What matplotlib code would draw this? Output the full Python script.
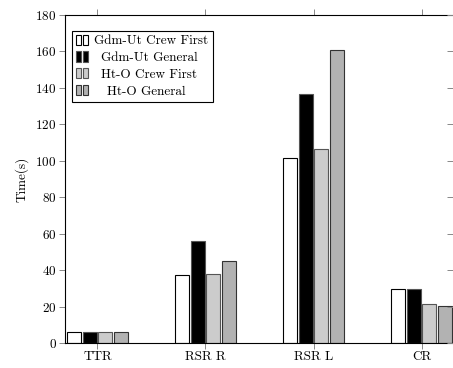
import numpy as np
import matplotlib
matplotlib.use("Agg")
import matplotlib.pyplot as plt
from matplotlib.patches import Rectangle
from matplotlib.legend_handler import HandlerBase

plt.rcParams["font.family"] = ["cmr10", "DejaVu Serif"]
plt.rcParams["axes.formatter.use_mathtext"] = True
plt.rcParams["font.size"] = 9.5

categories = ["TTR", "RSR R", "RSR L", "CR"]
series_names = ["Gdm-Ut Crew First", "Gdm-Ut General", "Ht-O Crew First", "Ht-O General"]
gdm_crew_first = [5.9, 37.2, 101.5, 29.8]
gdm_general = [5.9, 56.0, 136.5, 29.5]
hto_crew_first = [5.9, 37.7, 106.5, 21.4]
hto_general = [5.9, 45.2, 160.8, 20.5]
y_ticks = [0, 20, 40, 60, 80, 100, 120, 140, 160, 180]

series = [gdm_crew_first, gdm_general, hto_crew_first, hto_general]
fills = ["white", "black", "#cccccc", "#b2b2b2"]
edges = ["black", "#555555", "#555555", "#333333"]


class TwoBarHandler(HandlerBase):
    def create_artists(self, legend, orig_handle, xdescent, ydescent,
                       width, height, fontsize, trans):
        w = width * 0.38
        h = height * 1.1
        y0 = -ydescent - height * 0.05
        arts = []
        for x0 in (-xdescent, -xdescent + width * 0.55):
            r = Rectangle((x0, y0), w, h, facecolor=orig_handle.get_facecolor(),
                          edgecolor=orig_handle.get_edgecolor(), linewidth=0.8,
                          transform=trans)
            arts.append(r)
        return arts


fig = plt.figure(figsize=(4.53, 3.68), dpi=100)
ax = fig.add_axes([65 / 453, 1 - 343 / 368, 389 / 453, 328 / 368])

x = np.arange(len(categories))
step = 0.145
width = 0.13
handles = []
for i, (vals, fc, ec) in enumerate(zip(series, fills, edges)):
    offs = (i - 1.5) * step
    bars = ax.bar(x + offs, vals, width, color=fc, edgecolor=ec, linewidth=0.8,
                  label=series_names[i], zorder=2)
    handles.append(bars[0])

ax.set_xlim(-0.3, 3.3)
ax.set_ylim(0, 180)
ax.set_xticks(x)
ax.set_xticklabels(categories)
ax.set_yticks(y_ticks)
ax.set_ylabel("Time(s)", labelpad=5)

for s in ax.spines.values():
    s.set_linewidth(0.8)
ax.spines["right"].set_visible(False)
ax.tick_params(axis="both", direction="out", length=4, width=0.7, color="#888888",
               labelsize=9.5, pad=2)
ax.tick_params(axis="x", top=True)

# right-hand ticks point inwards in the original (spine is cut off)
ax_r = ax.twinx()
ax_r.set_ylim(ax.get_ylim())
ax_r.set_yticks(y_ticks)
ax_r.tick_params(axis="y", direction="in", length=5, width=0.7, color="#888888",
                 labelright=False)
for s in ax_r.spines.values():
    s.set_visible(False)

leg = ax.legend(handles=handles, labels=series_names, loc="upper left",
                bbox_to_anchor=(0.018, 0.951), borderaxespad=0,
                handler_map={type(handles[0]): TwoBarHandler()},
                handlelength=0.95, handletextpad=0.45, labelspacing=0.35,
                borderpad=0.3, fancybox=False, framealpha=1, edgecolor="black",
                fontsize=9.5)
leg.get_frame().set_linewidth(0.8)

# centre the legend labels like the original
fig.canvas.draw()
renderer = fig.canvas.get_renderer()
texts = leg.get_texts()
widths = [t.get_window_extent(renderer).width for t in texts]
maxw = max(widths)
for t, w in zip(texts, widths):
    t.set_position(((maxw - w) / 2 * 72 / fig.dpi, 0))

fig.savefig("out.png", dpi=100)
